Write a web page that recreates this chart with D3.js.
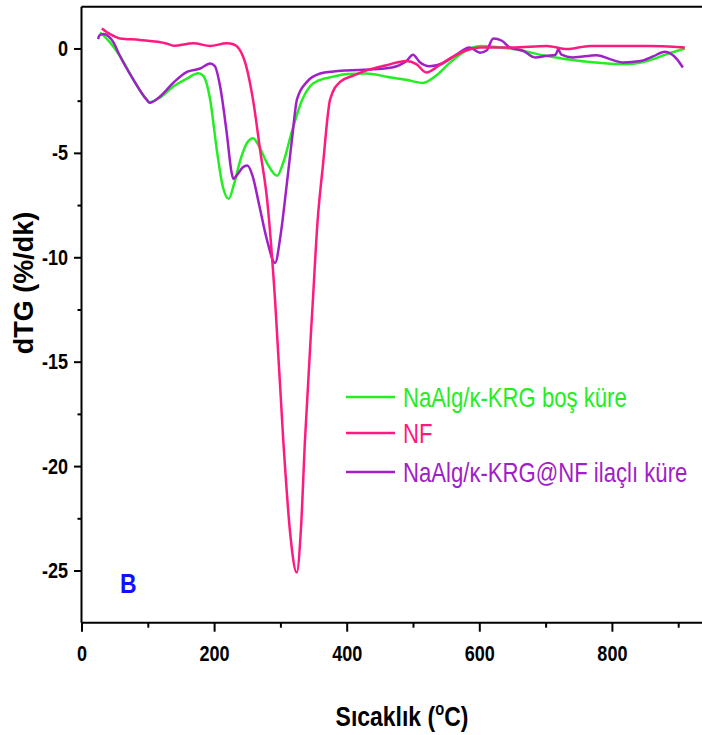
<!DOCTYPE html>
<html>
<head>
<meta charset="utf-8">
<script src="https://cdn.jsdelivr.net/npm/d3@7"></script>
<style>
  body { margin: 0; background: #fff; }
  svg { display: block; }
</style>
</head>
<body>
<div id="chart"></div>
<script>
// series: [temperature, dTG]
var bosKure = [[28,0.77],[43,0.29],[58,-0.36],[78,-1.48],[98,-2.44],[103,-2.57],[118,-2.36],[138,-1.83],[159,-1.44],[176,-1.19],[184,-1.32],[194,-2.44],[204,-4.84],[213,-6.6],[222,-7.2],[230,-6.5],[240,-5.3],[250,-4.5],[259,-4.3],[268,-4.7],[280,-5.5],[295,-6.1],[305,-5.4],[318,-3.9],[333,-2.44],[345,-1.8],[360,-1.5],[380,-1.35],[400,-1.22],[430,-1.2],[460,-1.35],[490,-1.5],[515,-1.65],[535,-1.3],[555,-0.7],[575,-0.2],[590,0.05],[602,0.12],[651,-0.03],[702,-0.36],[752,-0.6],[817,-0.75],[853,-0.6],[883,-0.27],[910,0.0]];

var nf = [[30.5,0.96],[43,0.69],[58,0.48],[88,0.41],[128,0.24],[139,0.13],[169,0.25],[194,0.12],[219,0.25],[229,0.2],[238,-0.03],[248,-0.8],[258.6,-2.44],[270,-5.0],[280,-7.25],[292,-12.06],[304.4,-18.8],[315,-23.3],[324.6,-25.1],[331,-23],[337,-18.8],[349,-12.06],[356,-8.3],[364,-5.65],[375,-2.44],[390,-1.6],[410,-1.3],[430,-1.05],[460,-0.8],[490,-0.6],[505,-0.75],[520,-1.15],[540,-0.8],[560,-0.4],[580,-0.1],[601,0.05],[650,0.05],[702,0.12],[732,-0.03],[767,0.12],[853,0.12],[910,0.05]];

var ilacliKure = [[25,0.45],[27,0.62],[33,0.69],[48,0.3],[58,-0.36],[78,-1.48],[98,-2.44],[103,-2.6],[118,-2.31],[139,-1.63],[159,-1.12],[179,-0.96],[194,-0.72],[201,-0.84],[209,-1.8],[219,-4.03],[226.5,-5.96],[229,-6.24],[236,-6.0],[243,-5.7],[250,-5.61],[258,-6.1],[268,-7.5],[280,-9.2],[292,-10.27],[300,-9.0],[310,-6.4],[318,-4.2],[325,-2.44],[340,-1.6],[360,-1.2],[380,-1.1],[400,-1.05],[440,-1.0],[470,-0.9],[490,-0.6],[500,-0.3],[510,-0.65],[525,-0.85],[545,-0.7],[565,-0.3],[585,0.05],[601,-0.2],[611,-0.1],[621,0.48],[634,0.37],[646,0.05],[666,-0.11],[684,-0.43],[702,-0.35],[715,-0.3],[719,-0.05],[724,-0.3],[741,-0.43],[777,-0.32],[797,-0.51],[817,-0.67],[843,-0.6],[862,-0.38],[880,-0.16],[898,-0.51],[907,-0.91]];

var seriesNames = ["NaAlg/\u03ba-KRG bo\u015f k\u00fcre", "NF", "NaAlg/\u03ba-KRG@NF ila\u00e7l\u0131 k\u00fcre"];
var seriesColors = ["#22ee22", "#ff1a80", "#a020c8"];
var xMajor = [0, 200, 400, 600, 800];
var xMinor = [100, 300, 500, 700, 900];
var yMajor = [0, -5, -10, -15, -20, -25];
var yMinor = [-2.5, -7.5, -12.5, -17.5, -22.5];

var W = 702, H = 735;
var FONT = "'Liberation Sans', Arial, sans-serif";
var SQUEEZE = 0.82; // the figure is horizontally condensed

var svg = d3.select("#chart").append("svg")
  .attr("width", W)
  .attr("height", H);

var x = d3.scaleLinear().domain([0, 950]).range([81.5, 81.5 + 950 * 0.663]);
var y = d3.scaleLinear().domain([-27.5, 2]).range([622.7, 6.7]);

// squeeze a text horizontally around its own x anchor
function condense(sel) {
  sel.each(function () {
    var t = d3.select(this);
    var ax = +t.attr("x") || 0;
    t.attr("transform", "translate(" + ax + ",0) scale(" + SQUEEZE + ",1) translate(" + (-ax) + ",0)");
  });
}

// frame top line (right side runs off the canvas)
svg.append("line")
  .attr("x1", x(0)).attr("x2", W + 10)
  .attr("y1", y(2)).attr("y2", y(2))
  .style("stroke", "#000").style("stroke-width", 2);

function styleAxis(g) {
  g.select(".domain").style("stroke", "#000").style("stroke-width", 2);
  g.selectAll(".tick line").style("stroke", "#000").style("stroke-width", 2);
  g.selectAll("text")
    .style("font-family", FONT)
    .style("font-weight", "bold")
    .style("font-size", "22px")
    .style("fill", "#000");
}

var xAxis = svg.append("g")
  .attr("transform", "translate(0," + y(-27.5) + ")")
  .call(d3.axisBottom(x).tickValues(xMajor).tickSize(9).tickPadding(14).tickFormat(d3.format("d")));
styleAxis(xAxis);
xAxis.select(".domain").attr("d", "M" + x(0) + ",0H" + (W + 10));
xAxis.selectAll("text").call(condense);

svg.append("g")
  .attr("transform", "translate(0," + y(-27.5) + ")")
  .call(d3.axisBottom(x).tickValues(xMinor).tickSize(5).tickFormat(""))
  .call(styleAxis)
  .select(".domain").remove();

var yAxis = svg.append("g")
  .attr("transform", "translate(" + x(0) + ",0)")
  .call(d3.axisLeft(y).tickValues(yMajor).tickSize(7.5).tickPadding(6).tickFormat(d => String(d)));
styleAxis(yAxis);
yAxis.select(".domain").attr("d", "M0," + y(2) + "V" + y(-27.5));
yAxis.selectAll("text").call(condense);

svg.append("g")
  .attr("transform", "translate(" + x(0) + ",0)")
  .call(d3.axisLeft(y).tickValues(yMinor).tickSize(4).tickFormat(""))
  .call(styleAxis)
  .select(".domain").remove();

// curves
var line = d3.line()
  .x(d => x(d[0]))
  .y(d => y(d[1]))
  .curve(d3.curveMonotoneX);

var plot = svg.append("g");
var drawOrder = [[bosKure, 0], [ilacliKure, 2], [nf, 1]];
drawOrder.forEach(function (s) {
  plot.append("path")
    .datum(s[0])
    .attr("d", line)
    .style("fill", "none")
    .style("stroke", seriesColors[s[1]])
    .style("stroke-width", 2.5)
    .style("stroke-linejoin", "round");
});

// legend
var legendY = [397, 433, 472];
seriesNames.forEach(function (name, i) {
  svg.append("line")
    .attr("x1", 346).attr("x2", 395)
    .attr("y1", legendY[i]).attr("y2", legendY[i])
    .style("stroke", seriesColors[i])
    .style("stroke-width", 2.5);
  svg.append("text")
    .attr("x", 403)
    .attr("y", legendY[i] + 10)
    .text(name)
    .style("font-family", FONT)
    .style("font-size", "27px")
    .style("fill", seriesColors[i])
    .call(condense);
});

svg.append("text")
  .attr("x", 120).attr("y", 593)
  .text("B")
  .style("font-family", FONT)
  .style("font-weight", "bold")
  .style("font-size", "28px")
  .style("fill", "#1010ff")
  .call(condense);

// axis titles
var xt = svg.append("text")
  .attr("x", 402).attr("y", 726)
  .attr("text-anchor", "middle")
  .style("font-family", FONT)
  .style("font-weight", "bold")
  .style("font-size", "28px")
  .call(condense);
xt.append("tspan").text("S\u0131cakl\u0131k (");
xt.append("tspan").text("o").attr("dy", -11).style("font-size", "18px");
xt.append("tspan").text("C)").attr("dy", 11);

svg.append("text")
  .attr("transform", "translate(33,283) rotate(-90)")
  .attr("text-anchor", "middle")
  .text("dTG (%/dk)")
  .style("font-family", FONT)
  .style("font-weight", "bold")
  .style("font-size", "27px");
</script>
</body>
</html>
